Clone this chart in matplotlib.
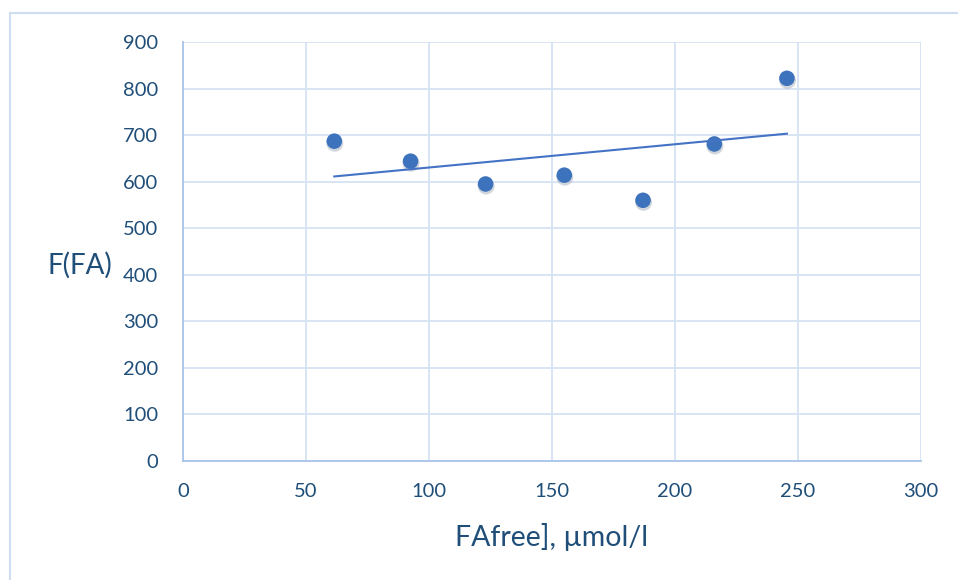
import numpy as np
import matplotlib
matplotlib.use("Agg")
import matplotlib.pyplot as plt
from matplotlib.lines import Line2D
import matplotlib.transforms as mtransforms

x_vals = [61.5, 92.5, 123.0, 155.0, 187.0, 216.0, 245.5]
y_vals = [687, 644, 595, 614, 560, 681, 822]
x_ticks = [0, 50, 100, 150, 200, 250, 300]
y_ticks = [0, 100, 200, 300, 400, 500, 600, 700, 800, 900]
x_label = "FAfree], µmol/l"
y_label = "F(FA)"

plt.rcParams['font.family'] = ['Lato', 'DejaVu Sans']
text_color = '#1F4E79'
grid_color = '#D6E3F3'
spine_color = '#A9C4E8'
marker_color = '#3D72BC'

fig = plt.figure(figsize=(9.58, 5.80), dpi=100)
fig.patch.set_facecolor('white')
# outer chart border (only top and left visible, chart is cropped)
border_c = '#D0DDF0'
fig.lines.append(Line2D([10/958, 1.0], [1 - 13/580, 1 - 13/580], transform=fig.transFigure,
                        color=border_c, linewidth=1.5))
fig.lines.append(Line2D([10/958, 10/958], [0.0, 1 - 13/580], transform=fig.transFigure,
                        color=border_c, linewidth=1.5))

ax = fig.add_axes([183/958, 1 - 461/580, (921 - 183)/958, (461 - 42)/580])
ax.set_xlim(0, 300)
ax.set_ylim(0, 900)
ax.set_xticks(x_ticks)
ax.set_yticks(y_ticks)
ax.grid(True, color=grid_color, linewidth=1.3)
ax.set_axisbelow(True)
for s in ['top', 'right']:
    ax.spines[s].set_visible(False)
for s in ['left', 'bottom']:
    ax.spines[s].set_color(spine_color)
    ax.spines[s].set_linewidth(1.3)
ax.tick_params(axis='both', length=0, labelsize=14.5, colors=text_color)
ax.tick_params(axis='x', pad=16)
ax.tick_params(axis='y', pad=18)

# shadow
shadow = mtransforms.offset_copy(ax.transData, fig=fig, x=0.5, y=-2.0, units='dots')
ax.scatter(x_vals, y_vals, s=150, color='#9AA5B5', alpha=0.45, edgecolors='none',
           transform=shadow, zorder=2)
ax.scatter(x_vals, y_vals, s=125, color=marker_color, edgecolors='none', zorder=3)

# linear trendline
coef = np.polyfit(x_vals, y_vals, 1)
xt = np.array([min(x_vals), max(x_vals)])
ax.plot(xt, np.polyval(coef, xt), color='#4472C4', linewidth=1.5, zorder=4)

fig.text(80/958, 1 - 265/580, y_label, fontsize=20, color=text_color, ha='center', va='center')
fig.text(552/958, 1 - 537/580, x_label, fontsize=20.5, color=text_color, ha='center', va='center')

fig.savefig('out.png', dpi=100)
